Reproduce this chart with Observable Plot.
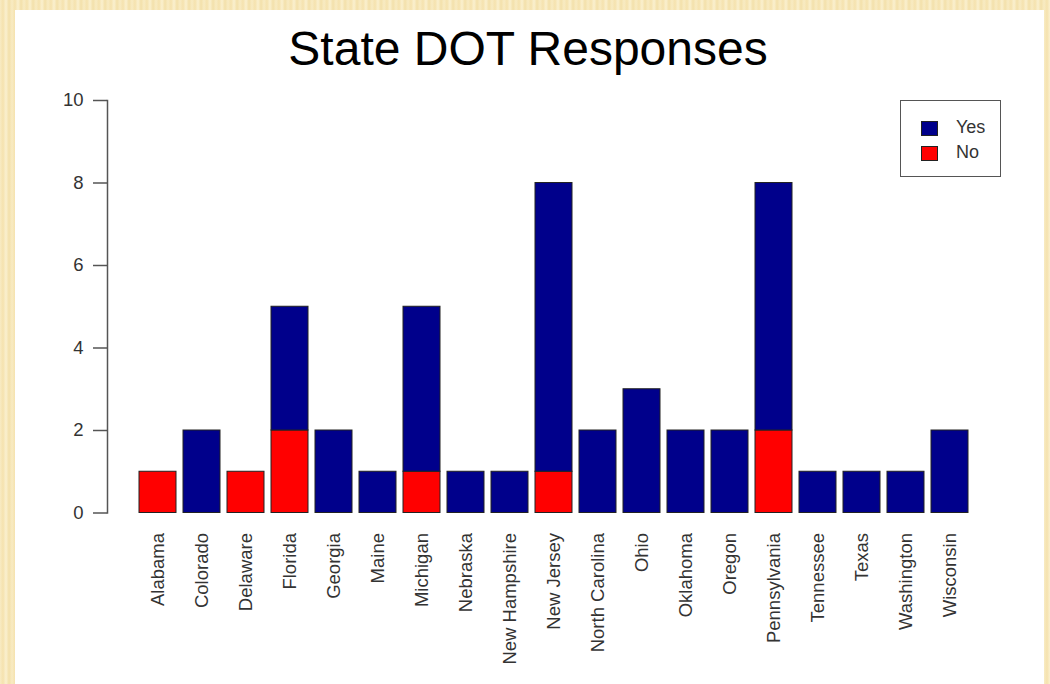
<!DOCTYPE html>
<html>
<head>
<meta charset="utf-8">
<script src="https://cdn.jsdelivr.net/npm/d3@7"></script>
<script src="https://cdn.jsdelivr.net/npm/@observablehq/plot@0.6"></script>
<style>
  html, body { margin: 0; padding: 0; }
  body {
    width: 1050px; height: 684px; overflow: hidden; position: relative;
    background: repeating-linear-gradient(90deg, #f8ebc3 0px, #f5e2ae 3px, #faf0cf 6px, #f3e0aa 9px, #f8ebc3 12px);
    font-family: "Liberation Sans", Arial, sans-serif;
  }
  #panel { position: absolute; left: 15px; top: 10px; width: 1029px; height: 680px; background: #fff; }
  #title { position: absolute; left: 0; width: 1056px; top: 21px; text-align: center; font-size: 48px; color: #000; line-height: 56px; }
  #chart { position: absolute; left: 0; top: 85px; }
  #legend { position: absolute; left: 900px; top: 100px; width: 99px; height: 75px; border: 1.5px solid #555; background: #fff; font-size: 18px; color: #333; }
  .item { position: absolute; left: 20px; height: 20px; }
  .sw { position: absolute; left: 0; top: 2px; width: 15px; height: 13px; border: 1px solid #222; }
  .lab { position: absolute; left: 35px; top: -2px; line-height: 20px; }
</style>
</head>
<body>
<div id="panel"></div>
<div id="title">State DOT Responses</div>
<div id="chart"></div>
<div id="legend"></div>
<script>
const states = ["Alabama","Colorado","Delaware","Florida","Georgia","Maine","Michigan","Nebraska","New Hampshire","New Jersey","North Carolina","Ohio","Oklahoma","Oregon","Pennsylvania","Tennessee","Texas","Washington","Wisconsin"];
const yesCounts = [0,2,0,3,2,1,4,1,1,7,2,3,2,2,6,1,1,1,2];
const noCounts  = [1,0,1,2,0,0,1,0,0,1,0,0,0,0,2,0,0,0,0];
const yTicks = [0,2,4,6,8,10];
const seriesNames = ["Yes","No"];
const seriesColors = ["#00008B","#FF0000"];

const rows = [];
states.forEach((s,i) => { if (noCounts[i] > 0) rows.push({state:s, response:"No", count:noCounts[i]}); });
states.forEach((s,i) => { if (yesCounts[i] > 0) rows.push({state:s, response:"Yes", count:yesCounts[i]}); });

const chart = Plot.plot({
  width: 1050,
  height: 599,
  marginLeft: 107,
  marginRight: 51,
  marginTop: 15,
  marginBottom: 171.5,
  style: {fontFamily: '"Liberation Sans", Arial, sans-serif', fontSize: "18.5px", color: "#333", background: "transparent"},
  x: {domain: states, paddingInner: 0.2/1.2, paddingOuter: 0.667, label: null},
  y: {domain: [0,10], label: null},
  color: {domain: seriesNames, range: seriesColors},
  marks: [
    Plot.barY(rows, {x: "state", y: "count", fill: "response", stroke: "#222", strokeWidth: 1, order: null}),
    Plot.axisY({ticks: yTicks, tickSize: 14, tickPadding: 10, stroke: "#555", strokeWidth: 1.5, fontSize: 18.5, fill: "#333", label: null}),
    Plot.frame({anchor: "left", stroke: "#555", strokeWidth: 1.5}),
    Plot.axisX({tickRotate: -90, tickSize: 0, tickPadding: 20, fontSize: 18.5, fill: "#333", label: null})
  ]
});
document.getElementById("chart").appendChild(chart);

const lg = document.getElementById("legend");
seriesNames.forEach((n,i) => {
  const it = document.createElement("div");
  it.className = "item";
  it.style.top = (18 + i*25) + "px";
  it.innerHTML = `<div class="sw" style="background:${seriesColors[i]}"></div><div class="lab">${n}</div>`;
  lg.appendChild(it);
});
</script>
</body>
</html>
